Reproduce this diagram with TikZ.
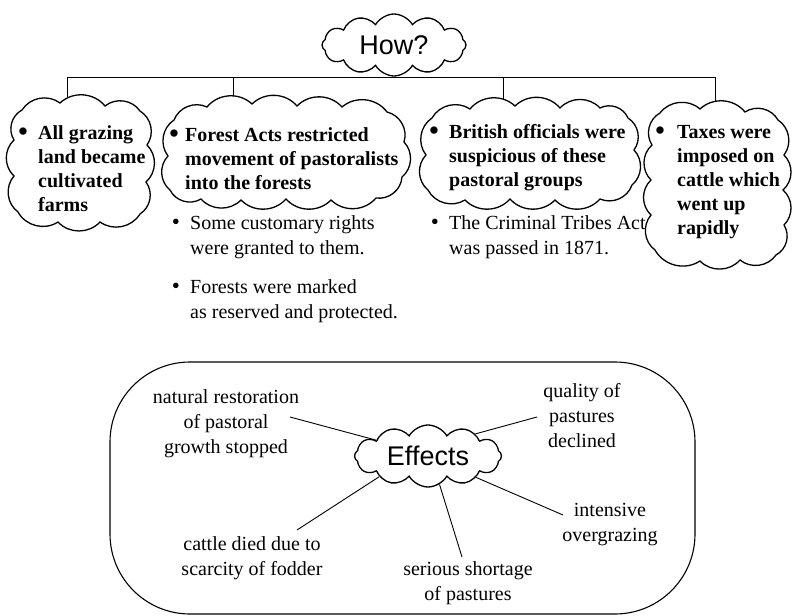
\documentclass[tikz,border=0pt]{standalone}
\usepackage{fontspec}
\setmainfont{Liberation Serif}
\newfontfamily\headfont{Liberation Sans}
\usetikzlibrary{shapes.symbols}
\pgfdeclarelayer{background}
\pgfsetlayers{background,main}
\tikzset{
  cloudbox/.style={cloud, draw=black, line width=1.3pt, fill=white, cloud puff arc=120, cloud ignores aspect, inner sep=0pt},
  area/.style={rectangle, inner sep=0pt},
  puff/.style={draw=black, line width=1.3pt, fill=white, every to/.style={bend left=47}},
  boldtxt/.style={anchor=north west, inner sep=0pt, align=left, font=\fontsize{20}{24}\selectfont\bfseries},
  regtxt/.style={anchor=north west, inner sep=0pt, align=left, font=\fontsize{20}{25}\selectfont},
  efftxt/.style={anchor=north, inner sep=0pt, align=center, font=\fontsize{20}{25}\selectfont},
  bul/.style={inner sep=0pt, font=\fontsize{27}{27}\selectfont\bfseries},
  subbul/.style={inner sep=0pt, font=\fontsize{23}{24}\selectfont},
  headtxt/.style={font=\headfont\fontsize{27}{30}\selectfont},
  link/.style={line width=0.9pt, draw=black}
}
\begin{document}
\begin{tikzpicture}[x=1pt,y=-1pt]
\useasboundingbox (0,0) rectangle (793,616);

% header cloud
\node[cloudbox, cloud puffs=12, minimum width=144pt, minimum height=62pt, headtxt] (how) at (394,45) {How?};

% bar coordinates
\coordinate (b1) at (67,77);
\coordinate (b2) at (233,77);
\coordinate (b3) at (503,77);
\coordinate (b4) at (715,77);

% four cloud areas (named regions)
\node[area, minimum width=133pt, minimum height=119pt] (c1) at (80.5,162.5) {};
\node[area, minimum width=236pt, minimum height=93pt] (c2) at (286,152.5) {};
\node[area, minimum width=208pt, minimum height=91pt] (c3) at (530,153.5) {};
\node[area, minimum width=133pt, minimum height=151pt] (c4) at (717.5,184.5) {};

% cloud outlines
\path[puff] (18,212) to (14,176) to (14,140) to (22,110) to (60,103) to (105,106) to (140,111)
  to (147,145) to (146,182) to (140,214) to (100,222) to (58,222) to (18,212) -- cycle;
\path[puff] (170,190) to (168,156) to (174,120) to (207,107) to (252,104) to (297,106) to (342,107)
  to (387,112) to (404,142) to (402,177) to (376,198) to (331,200) to (286,199) to (241,200)
  to (201,199) to (170,190) -- cycle;
\path[puff] (428,190) to (426,155) to (432,118) to (470,109) to (515,106) to (560,108) to (600,108)
  to (628,118) to (634,150) to (632,185) to (600,199) to (555,200) to (510,199) to (465,200)
  to (428,190) -- cycle;
\path[puff] (655,250) to (651,215) to (651,180) to (652,145) to (660,113) to (700,109) to (745,112)
  to (778,120) to (784,155) to (783,190) to (784,225) to (776,255) to (740,260) to (700,261)
  to (655,250) -- cycle;

\begin{pgfonlayer}{background}
\draw[link] (b1) -- (b4);
\draw[link] (b1) -- (b1 |- c1.center);
\draw[link] (b2) -- (b2 |- c2.center);
\draw[link] (b3) -- (b3 |- c3.center);
\draw[link] (b4) -- (b4 |- c4.center);
\end{pgfonlayer}

% cloud texts
\node[bul] (u1) at (23,134) {•};
\node[boldtxt] (t1) at (38,122) {\strut All grazing\\land became\\cultivated\\farms};
\node[bul] (u2) at (174,136) {•};
\node[boldtxt] (t2) at (185,124) {\strut Forest Acts restricted\\movement of pastoralists\\into the forests};
\node[bul] (u3) at (434,133) {•};
\node[boldtxt] (t3) at (449,121) {\strut British officials were\\suspicious of these\\pastoral groups};
\node[bul] (u4) at (660,133) {•};
\node[boldtxt] (t4) at (677,121) {\strut Taxes were\\imposed on\\cattle which\\went up\\rapidly};

% sub bullets
\node[subbul] (s1b) at (176,224) {•};
\node[regtxt] (s1) at (190,211.5) {\strut Some customary rights\\were granted to them.};
\node[subbul] (s2b) at (176,288) {•};
\node[regtxt] (s2) at (190,275.5) {\strut Forests were marked\\as reserved and protected.};
\node[subbul] (s3b) at (435,224) {•};
\node[regtxt] (s3) at (449,211.5) {\strut The Criminal Tribes Act\\was passed in 1871.};

% effects box
\draw[line width=1.1pt, rounded corners=80pt] (110,362) rectangle (695,614);
\node[cloudbox, cloud puffs=12, minimum width=147pt, minimum height=62pt, headtxt] (eff) at (428,456) {Effects};

\node[efftxt] (e1) at (226,385.5) {\strut natural restoration\\of pastoral\\growth stopped};
\node[efftxt] (e2) at (582,379.5) {\strut quality of\\pastures\\declined};
\node[efftxt] (e3) at (610,498.5) {\strut intensive\\overgrazing};
\node[efftxt] (e4) at (468,557.5) {\strut serious shortage\\of pastures};
\node[efftxt] (e5) at (252,532.5) {\strut cattle died due to\\scarcity of fodder};

\coordinate (k1) at (290,417);
\coordinate (k2) at (537,417);
\coordinate (k3) at (563,515);
\coordinate (k4) at (462,557);
\coordinate (k5) at (297,530);
\draw[link] (eff.163) -- (k1);
\draw[link] (eff.25) -- (k2);
\draw[link] (eff.-24) -- (k3);
\draw[link] (eff.-68) -- (k4);
\draw[link] (eff.203) -- (k5);
\end{tikzpicture}
\end{document}
